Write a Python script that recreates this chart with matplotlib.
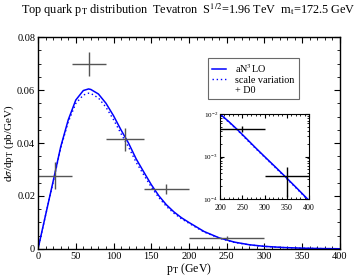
import numpy as np
import matplotlib
matplotlib.use("Agg")
import matplotlib.pyplot as plt
from matplotlib.lines import Line2D
from matplotlib.ticker import MultipleLocator, LogLocator, NullFormatter, FuncFormatter

plt.rcParams.update({
    "font.family": "Liberation Serif",
    "mathtext.fontset": "stix",
    "font.size": 7,
    "axes.linewidth": 1.0,
    "xtick.direction": "in",
    "ytick.direction": "in",
    "xtick.top": True,
    "ytick.right": True,
    "xtick.major.size": 4,
    "ytick.major.size": 4,
    "xtick.minor.size": 2,
    "ytick.minor.size": 2,
})

# theory curve (aN3LO) and lower scale variation
pt = [0, 10, 20, 30, 40, 50, 60, 67, 70, 80, 90, 100, 110, 120, 130, 140, 150,
      160, 170, 180, 190, 200, 220, 240, 260, 280, 300, 325, 350, 375, 400]
an3lo = [0, 0.0128, 0.0255, 0.0385, 0.0487, 0.0562, 0.0598, 0.0604, 0.0602,
         0.0585, 0.0550, 0.0503, 0.0449, 0.0399, 0.0340, 0.0291, 0.0243,
         0.0201, 0.0167, 0.0140, 0.0118, 0.0100, 0.0066, 0.0042, 0.0026,
         0.0016, 0.00100, 0.00056, 0.00031, 0.00017, 0.000092]
scale_lo = [0, 0.0127, 0.0252, 0.0380, 0.0479, 0.0549, 0.0581, 0.0588, 0.0587,
            0.0570, 0.0535, 0.0488, 0.0435, 0.0384, 0.0327, 0.0280, 0.0234,
            0.0194, 0.0161, 0.0135, 0.0114, 0.0097, 0.0064, 0.0041, 0.0025,
            0.00155, 0.00097, 0.00054, 0.00030, 0.000165, 0.000089]

# D0 data
d0_x = [22.5, 67.5, 115, 170, 250]
d0_xerr = [22.5, 22.5, 25, 30, 50]
d0_y = [0.0277, 0.0697, 0.0414, 0.0226, 0.0042]
d0_yerr = [0.0050, 0.0045, 0.0043, 0.0020, 0.0007]

ins_x = [250, 350]
ins_xerr = [50, 50]
ins_y = [0.0044, 0.00034]
ins_yerr = [0.0007, 0.00023]

fig = plt.figure(figsize=(3.61, 2.77), dpi=100)
ax = fig.add_axes([0.1053, 0.1011, 0.8365, 0.7653])

ax.plot(pt, an3lo, color="#0000ff", lw=1.1)
ax.plot(pt, scale_lo, color="#0000ff", lw=1.0, ls=(0, (1, 2)))
ax.errorbar(d0_x, d0_y, xerr=d0_xerr, yerr=d0_yerr, fmt="none",
            ecolor="#555555", elinewidth=1.0, capsize=0)

ax.set_xlim(0, 400)
ax.set_ylim(0, 0.08)
ax.xaxis.set_major_locator(MultipleLocator(50))
ax.xaxis.set_minor_locator(MultipleLocator(10))
ax.yaxis.set_major_locator(MultipleLocator(0.02))
ax.yaxis.set_minor_locator(MultipleLocator(0.005))
ax.yaxis.set_major_formatter(FuncFormatter(lambda v, p: "0" if abs(v) < 1e-9 else f"{v:.2f}"))
ax.tick_params(labelsize=7.5, pad=2)
ax.set_xlabel(r"p$_\mathrm{T}$ (GeV)", fontsize=8.5, labelpad=0)
ax.set_ylabel(r"d$\sigma$/dp$_\mathrm{T}$ (pb/GeV)", fontsize=8, labelpad=1)

handles = [
    Line2D([0], [0], color="#0000ff", lw=1.1),
    Line2D([0], [0], color="#0000ff", lw=1.0, ls=(0, (1, 2))),
    Line2D([0], [0], color="none"),
]
labels = [r"aN$^3$LO", "scale variation", "+ D0"]
leg = fig.legend(handles, labels, loc="upper left",
                 bbox_to_anchor=(203 / 361, 1 - 52.5 / 277),
                 fontsize=7.3, frameon=True, fancybox=False,
                 edgecolor="#444444", handlelength=1.4, handletextpad=0.9,
                 borderpad=0.4, labelspacing=0.12)
leg.get_frame().set_linewidth(0.8)

fig.text(0.521, 0.964, r"Top quark p$_\mathrm{T}$ distribution  Tevatron  S$^{1/2}$=1.96 TeV  m$_\mathrm{t}$=172.5 GeV",
         ha="center", va="center", fontsize=8.8)

# inset with log scale
axi = fig.add_axes([0.6094, 0.2816, 0.2466, 0.3068])
axi.plot(pt, an3lo, color="#0000ff", lw=1.1)
axi.plot(pt, scale_lo, color="#0000ff", lw=1.0, ls=(0, (1, 2)))
axi.errorbar(ins_x, ins_y, xerr=ins_xerr, yerr=ins_yerr, fmt="none",
             ecolor="black", elinewidth=1.0, capsize=0)
axi.set_yscale("log")
axi.set_xlim(200, 400)
axi.set_ylim(1e-4, 1e-2)
axi.xaxis.set_major_locator(MultipleLocator(50))
axi.xaxis.set_minor_locator(MultipleLocator(10))
axi.yaxis.set_minor_locator(LogLocator(subs=np.arange(2, 10)))
axi.yaxis.set_minor_formatter(NullFormatter())
axi.tick_params(axis="x", labelsize=5.8, pad=3.5)
axi.tick_params(axis="y", labelsize=5.2, pad=1.5)
axi.tick_params(which="major", length=3)
axi.tick_params(which="minor", length=1.5)
for s in axi.spines.values():
    s.set_linewidth(0.8)

fig.savefig("out.png", dpi=100)
